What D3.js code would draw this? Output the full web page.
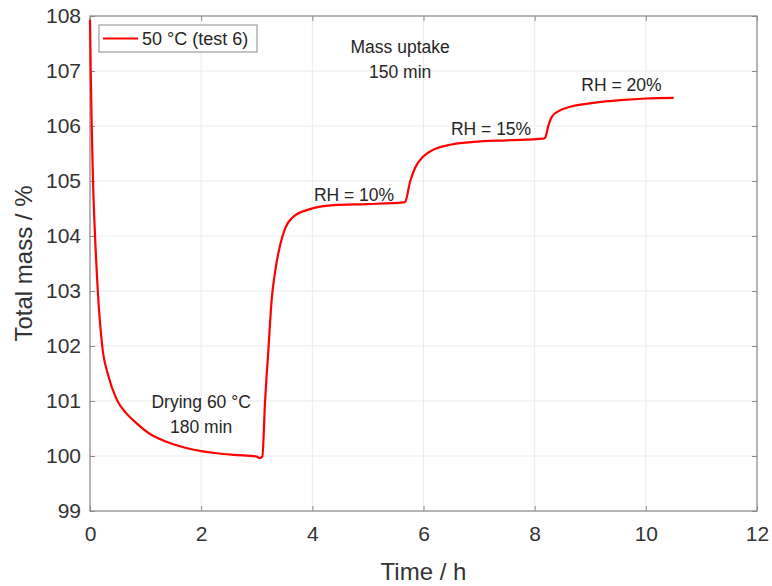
<!DOCTYPE html>
<html>
<head>
<meta charset="utf-8">
<script src="https://cdn.jsdelivr.net/npm/d3@7"></script>
<style>
  html, body { margin: 0; padding: 0; background: #fff; }
  svg { display: block; font-family: "Liberation Sans", Arial, Helvetica, sans-serif; }
</style>
</head>
<body>
<svg id="chart" width="772" height="586"></svg>
<script>
// Time axis (hours) and total mass (% of dry mass), test 6 at 50 °C
const timeH = [0, 0.012, 0.03, 0.054, 0.09, 0.14, 0.22, 0.33, 0.48, 0.65, 0.81, 1.08, 1.35, 1.68, 2.0, 2.28, 2.6, 3.0, 3.05, 3.1,
  3.15, 3.21, 3.27, 3.33, 3.42, 3.51, 3.66, 3.9, 4.38, 4.98, 5.64, 5.67, 5.76, 5.85, 6.0, 6.18, 6.48, 6.9, 7.5, 8.16,
  8.19, 8.25, 8.31, 8.43, 8.64, 9.06, 9.54, 10.02, 10.5];
const massPct = [107.93, 107.05, 106.03, 105.0, 104.02, 103.01, 102.0, 101.46, 101.03, 100.78, 100.62, 100.4, 100.27, 100.16, 100.09, 100.05, 100.02, 99.99, 99.96, 99.99,
  101.0, 101.94, 102.86, 103.35, 103.83, 104.14, 104.35, 104.47, 104.56, 104.58, 104.61, 104.62, 104.99, 105.24, 105.45, 105.57, 105.66, 105.71, 105.74, 105.77,
  105.79, 106.02, 106.17, 106.27, 106.35, 106.42, 106.47, 106.5, 106.51];

const xTicks = [0, 2, 4, 6, 8, 10, 12];
const yTicks = [99, 100, 101, 102, 103, 104, 105, 106, 107, 108];

const seriesName = "50 °C (test 6)";
const xTitle = "Time / h";
const yTitle = "Total mass / %";

// Text annotations: [label lines, time, mass] anchored at the first line's baseline
const notes = [
  { lines: ["Mass uptake", "150 min"], t: 5.58, m: 107.32 },
  { lines: ["Drying 60 °C", "180 min"], t: 2.0, m: 100.88 },
  { lines: ["RH = 10%"], t: 4.75, m: 104.64 },
  { lines: ["RH = 15%"], t: 7.215, m: 105.83 },
  { lines: ["RH = 20%"], t: 9.56, m: 106.64 }
];

const margin = { left: 90, top: 16, right: 15, bottom: 75 };
const W = 772, H = 586;
const iw = W - margin.left - margin.right;
const ih = H - margin.top - margin.bottom;

const svg = d3.select("#chart");
const g = svg.append("g").attr("transform", `translate(${margin.left},${margin.top})`);

const x = d3.scaleLinear().domain([0, 12]).range([0, iw]);
const y = d3.scaleLinear().domain([99, 108]).range([ih, 0]);

const axisColor = "#8a8a8a";
const textColor = "#333";

// grid
g.append("g").selectAll("line.gx").data(xTicks).join("line")
  .attr("x1", d => x(d)).attr("x2", d => x(d)).attr("y1", 0).attr("y2", ih)
  .attr("stroke", "#ebebeb").attr("stroke-width", 1);
g.append("g").selectAll("line.gy").data(yTicks).join("line")
  .attr("y1", d => y(d)).attr("y2", d => y(d)).attr("x1", 0).attr("x2", iw)
  .attr("stroke", "#ebebeb").attr("stroke-width", 1);

// axes (ticks point inward)
function styleAxis(sel) {
  sel.select(".domain").remove();
  sel.selectAll(".tick line").attr("stroke", axisColor);
  sel.selectAll(".tick text").attr("fill", textColor).attr("font-size", 21)
    .attr("font-family", "Liberation Sans, Arial, sans-serif");
}
g.append("g").attr("transform", `translate(0,${ih})`)
  .call(d3.axisBottom(x).tickValues(xTicks).tickSizeInner(-5).tickSizeOuter(0).tickPadding(15))
  .call(styleAxis);
g.append("g")
  .call(d3.axisLeft(y).tickValues(yTicks).tickSizeInner(-5).tickSizeOuter(0).tickPadding(9))
  .call(styleAxis);
g.append("g")
  .call(d3.axisTop(x).tickValues(xTicks).tickSizeInner(-5).tickSizeOuter(0).tickFormat(""))
  .call(styleAxis);
g.append("g").attr("transform", `translate(${iw},0)`)
  .call(d3.axisRight(y).tickValues(yTicks).tickSizeInner(-5).tickSizeOuter(0).tickFormat(""))
  .call(styleAxis);

// axes box
g.append("rect").attr("x", 0).attr("y", 0).attr("width", iw).attr("height", ih)
  .attr("fill", "none").attr("stroke", axisColor).attr("stroke-width", 1.2);

// data line
const pts = timeH.map((t, i) => [t, massPct[i]]);
const line = d3.line().x(d => x(d[0])).y(d => y(d[1])).curve(d3.curveMonotoneX);
g.append("path").datum(pts).attr("d", line)
  .attr("fill", "none").attr("stroke", "#ff0000").attr("stroke-width", 2.2)
  .attr("stroke-linejoin", "round");

// annotations
notes.forEach(n => {
  const tx = g.append("text").attr("fill", "#262626").attr("font-size", 17.5)
    .attr("text-anchor", "middle")
    .attr("x", x(n.t)).attr("y", y(n.m));
  n.lines.forEach((l, i) => {
    tx.append("tspan").attr("x", x(n.t)).attr("dy", i === 0 ? 0 : 25).text(l);
  });
});

// legend
const leg = svg.append("g").attr("transform", "translate(99,25)");
leg.append("rect").attr("width", 158).attr("height", 27)
  .attr("fill", "#fff").attr("stroke", "#8a8a8a").attr("stroke-width", 1);
leg.append("line").attr("x1", 4).attr("x2", 39).attr("y1", 13.5).attr("y2", 13.5)
  .attr("stroke", "#ff0000").attr("stroke-width", 2.2);
leg.append("text").attr("x", 43).attr("y", 20).attr("font-size", 18)
  .attr("fill", "#262626").text(seriesName);

// axis titles
svg.append("text").attr("x", margin.left + iw / 2).attr("y", 580)
  .attr("text-anchor", "middle").attr("font-size", 24).attr("fill", textColor).text(xTitle);
svg.append("text").attr("transform", `translate(32,${margin.top + ih / 2}) rotate(-90)`)
  .attr("text-anchor", "middle").attr("font-size", 24).attr("fill", textColor).text(yTitle);
</script>
</body>
</html>
